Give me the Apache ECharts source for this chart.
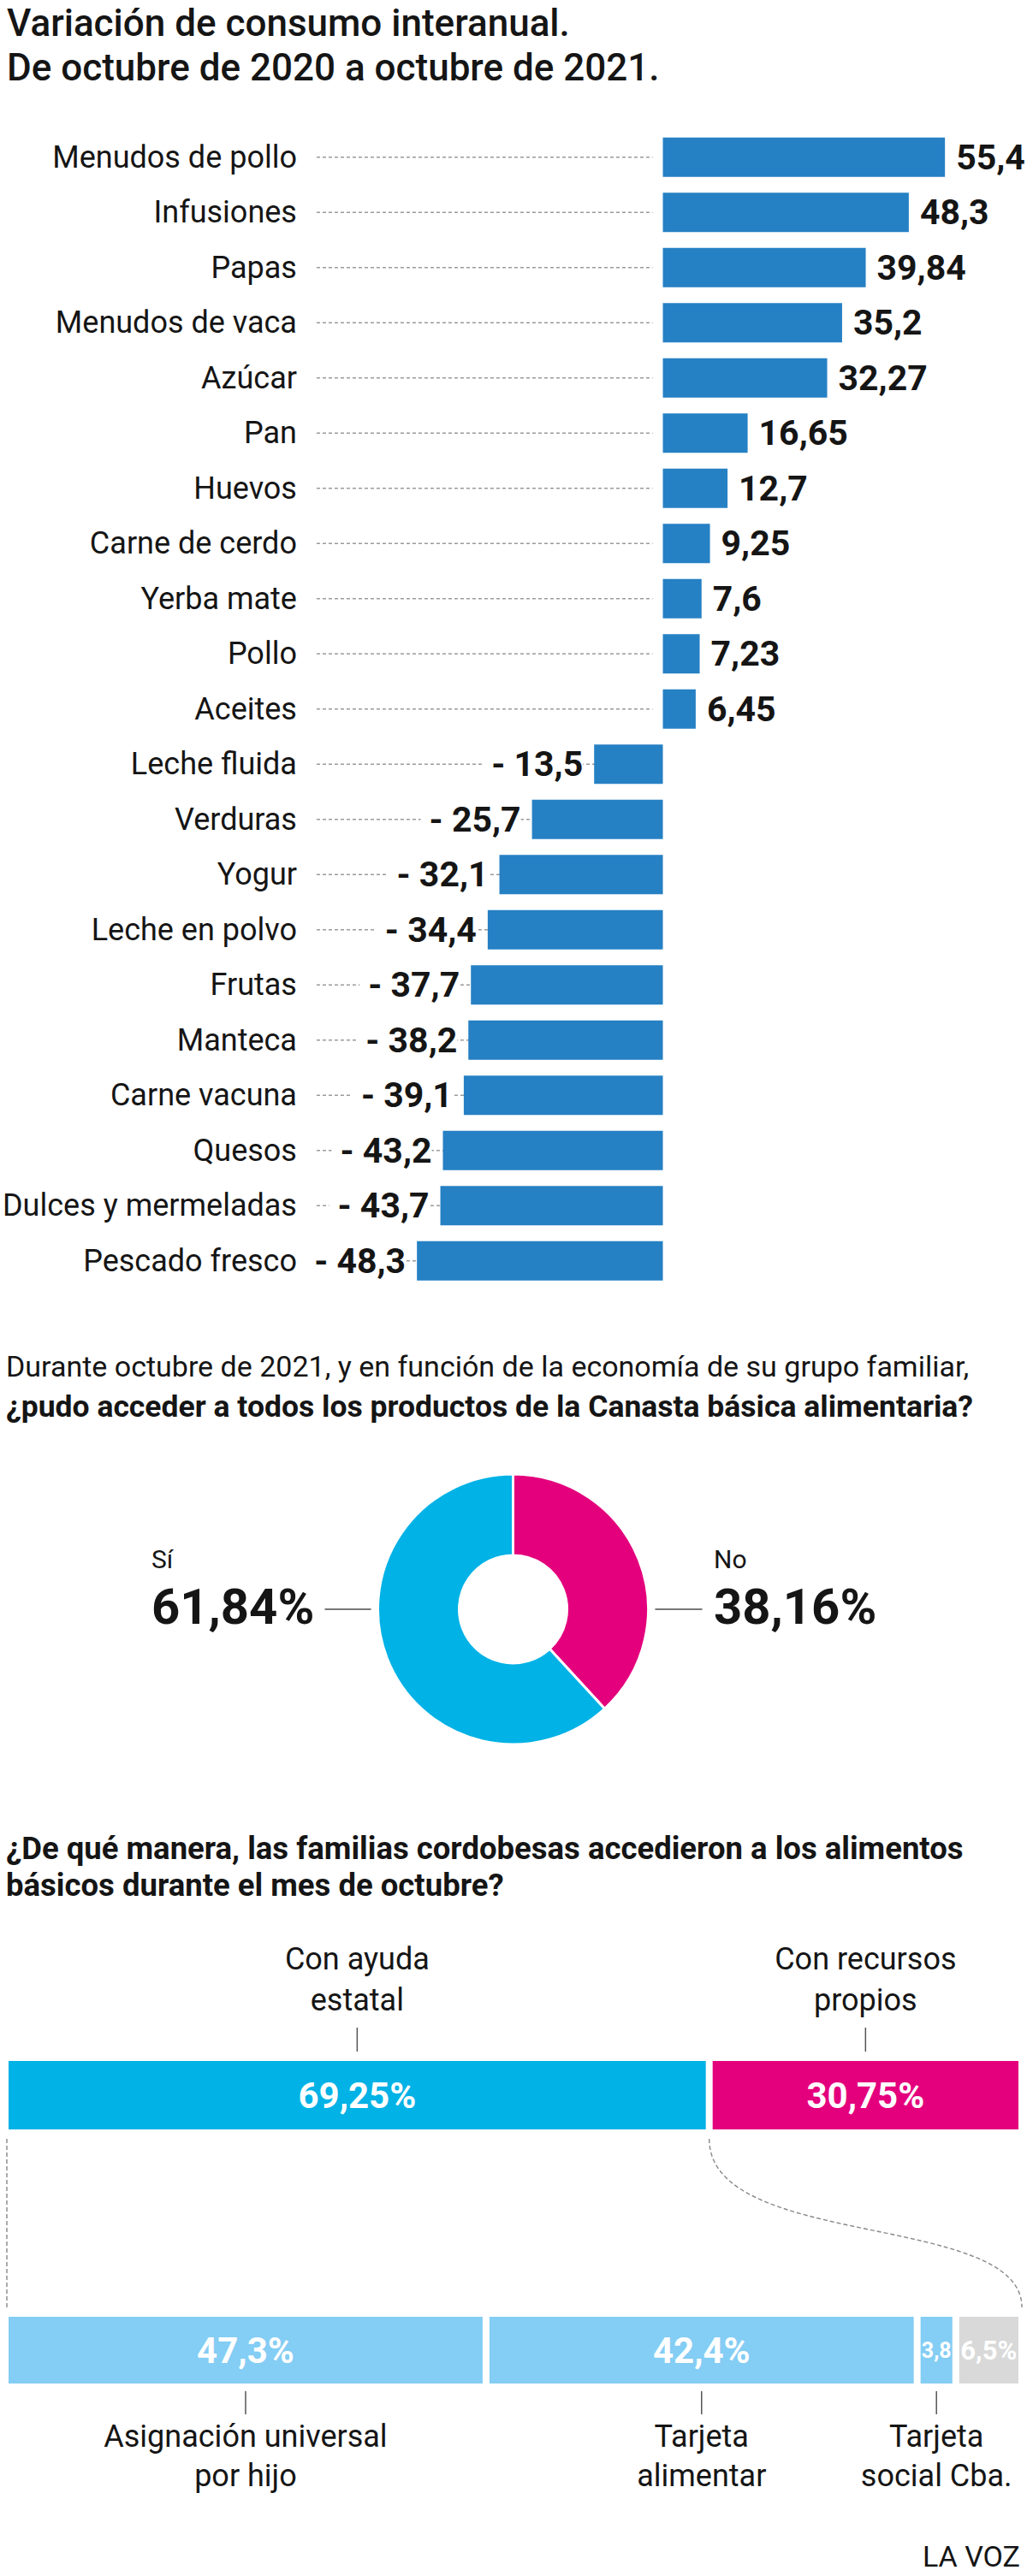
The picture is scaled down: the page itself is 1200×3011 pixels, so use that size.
<!DOCTYPE html>
<html lang="es">
<head>
<meta charset="utf-8">
<title>Variación de consumo interanual</title>
<script src="https://cdn.jsdelivr.net/npm/echarts@6.0.0/dist/echarts.min.js"></script>
<style>
  html, body { margin: 0; padding: 0; background: #fff; }
  #main { width: 1200px; height: 3011px; }
</style>
</head>
<body>
<div id="main"></div>
<script>
// datos: variación interanual del consumo (%)
const categories = ['Menudos de pollo', 'Infusiones', 'Papas', 'Menudos de vaca', 'Azúcar', 'Pan', 'Huevos',
  'Carne de cerdo', 'Yerba mate', 'Pollo', 'Aceites', 'Leche fluida', 'Verduras', 'Yogur', 'Leche en polvo',
  'Frutas', 'Manteca', 'Carne vacuna', 'Quesos', 'Dulces y mermeladas', 'Pescado fresco'];
const variation = [55.4, 48.3, 39.84, 35.2, 32.27, 16.65, 12.7, 9.25, 7.6, 7.23, 6.45,
  -13.5, -25.7, -32.1, -34.4, -37.7, -38.2, -39.1, -43.2, -43.7, -48.3];

// ¿pudo acceder a la canasta básica?
const pieLabels = ['Sí', 'No'];
const pieValues = [61.84, 38.16];

// forma de acceso
const accessLabels = ['Con ayuda\nestatal', 'Con recursos\npropios'];
const accessValues = [69.25, 30.75];

// tipo de ayuda estatal
const aidLabels = ['Asignación universal\npor hijo', 'Tarjeta\nalimentar', 'Tarjeta\nsocial Cba.', ''];
const aidValues = [47.3, 42.4, 3.8, 6.5];
const aidSuffix = ['%', '%', '', '%'];

const FONT = 'Roboto, "Liberation Sans", sans-serif';
const INK = '#151515';
const BLUE = '#2680c4', CYAN = '#00b2e6', MAGENTA = '#e4007d', LIGHT = '#84cdf4', GREY = '#d9d9d9';
const X_MIN = -68, X_MAX = 70;
const PIE_X = 599.5, PIE_Y = 1881, PIE_IN = 63, PIE_OUT = 158;

const fmt = v => String(v).replace('.', ',');

const chart = echarts.init(document.getElementById('main'), null, {renderer: 'svg'});

function text(x, y, str, size, weight, align, vAlign, lineHeight) {
  return {
    type: 'text', silent: true,
    style: {
      x: x, y: y, text: str, fill: INK,
      font: weight + ' ' + size + 'px ' + FONT,
      textAlign: align || 'left', textVerticalAlign: vAlign || 'middle',
      lineHeight: lineHeight || size
    }
  };
}

const barData = variation.map(v => ({
  value: v,
  label: v < 0
    ? {position: 'left', backgroundColor: '#fff', padding: [4, 0, 4, 10]}
    : {position: 'right'}
}));

const accessColors = [CYAN, MAGENTA];
const aidColors = [LIGHT, LIGHT, LIGHT, GREY];

const accessSeries = accessValues.map((v, i) => ({
  type: 'bar', xAxisIndex: 1, yAxisIndex: 1, stack: 'acceso', barWidth: 88,
  data: [v],
  itemStyle: {color: accessColors[i], borderColor: '#fff', borderWidth: 4},
  label: {show: true, position: 'inside', color: '#fff', fontFamily: FONT, fontWeight: 'bold',
    fontSize: 42, formatter: fmt(v) + '%'}
}));

const aidSeries = aidValues.map((v, i) => ({
  type: 'bar', xAxisIndex: 2, yAxisIndex: 2, stack: 'ayuda', barWidth: 86,
  data: [v],
  itemStyle: {color: aidColors[i], borderColor: '#fff', borderWidth: 4},
  label: {show: true, position: 'inside', color: '#fff', fontFamily: FONT, fontWeight: 'bold',
    fontSize: v < 5 ? 25 : (v < 10 ? 31 : 42), formatter: fmt(v) + aidSuffix[i]}
}));

const option = {
  animation: false,
  backgroundColor: '#fff',
  textStyle: {fontFamily: FONT},
  grid: [
    {left: 369, top: 151.5, width: 822, height: 1354.5},
    {left: 6, top: 2405, width: 1188, height: 88},
    {left: 6, top: 2704, width: 1188, height: 86}
  ],
  xAxis: [
    {gridIndex: 0, type: 'value', min: X_MIN, max: X_MAX, show: false},
    {gridIndex: 1, type: 'value', min: 0, max: 100, show: false},
    {gridIndex: 2, type: 'value', min: 0, max: 100, show: false}
  ],
  yAxis: [
    {
      gridIndex: 0, type: 'category', inverse: true, data: categories,
      axisLine: {show: false}, axisTick: {show: false}, splitLine: {show: false},
      axisLabel: {color: INK, fontSize: 36, fontFamily: FONT, margin: 23, padding: [0, 0, 8, 0]}
    },
    {gridIndex: 1, type: 'category', data: ['acceso'], show: false},
    {gridIndex: 2, type: 'category', data: ['ayuda'], show: false}
  ],
  series: [
    {
      // líneas punteadas guía
      type: 'custom', xAxisIndex: 0, yAxisIndex: 0, z: 1, silent: true,
      data: variation.map((v, i) => [v, i]),
      encode: {x: 0, y: 1},
      renderItem: function (params, api) {
        const zero = api.coord([0, api.value(1)]);
        return {
          type: 'line',
          shape: {x1: params.coordSys.x, y1: zero[1], x2: zero[0] - 12, y2: zero[1]},
          style: {stroke: '#9a9a9a', lineWidth: 1.3, lineDash: [4, 3]}
        };
      }
    },
    {
      type: 'bar', xAxisIndex: 0, yAxisIndex: 0, z: 2, barWidth: 46,
      data: barData,
      itemStyle: {color: BLUE},
      label: {
        show: true, distance: 13, color: INK, fontFamily: FONT, fontWeight: 'bold', fontSize: 41,
        formatter: p => p.value < 0 ? '- ' + fmt(-p.value) : fmt(p.value)
      }
    },
    {
      type: 'pie', center: [PIE_X, PIE_Y], radius: [PIE_IN, PIE_OUT],
      startAngle: 90, clockwise: true, silent: true,
      label: {show: false}, labelLine: {show: false},
      itemStyle: {borderColor: '#fff', borderWidth: 3},
      data: [
        {name: pieLabels[1], value: pieValues[1], itemStyle: {color: MAGENTA}},
        {name: pieLabels[0], value: pieValues[0], itemStyle: {color: CYAN}}
      ]
    }
  ].concat(accessSeries, aidSeries)
};

chart.setOption(option);

// anotaciones posicionadas con las escalas del gráfico
const px = (axis, v) => chart.convertToPixel({xAxisIndex: axis}, v);
const g = [];

g.push(text(8, 27, 'Variación de consumo interanual.', 44, 500));
g.push(text(8, 79, 'De octubre de 2020 a octubre de 2021.', 44, 500));

g.push(text(7, 1597, 'Durante octubre de 2021, y en función de la economía de su grupo familiar,', 34, 'normal'));
g.push(text(7, 1644, '¿pudo acceder a todos los productos de la Canasta básica alimentaria?', 35.5, 'bold'));

// etiquetas del anillo
g.push(text(177, 1822, pieLabels[0], 30, 'normal'));
g.push(text(177, 1878, fmt(pieValues[0]) + '%', 58, 'bold'));
g.push(text(834, 1822, pieLabels[1], 30, 'normal'));
g.push(text(834, 1878, fmt(pieValues[1]) + '%', 58, 'bold'));
const lineStyle = {stroke: '#777', lineWidth: 2};
g.push({type: 'line', silent: true, shape: {x1: PIE_X - PIE_OUT - 62, y1: PIE_Y, x2: PIE_X - PIE_OUT - 8, y2: PIE_Y}, style: lineStyle});
g.push({type: 'line', silent: true, shape: {x1: PIE_X + PIE_OUT + 8, y1: PIE_Y, x2: PIE_X + PIE_OUT + 63, y2: PIE_Y}, style: lineStyle});

g.push(text(7, 2160, '¿De qué manera, las familias cordobesas accedieron a los alimentos', 36.5, 'bold'));
g.push(text(7, 2203, 'básicos durante el mes de octubre?', 36.5, 'bold'));

const tickStyle = {stroke: '#555', lineWidth: 1.5};
let cum = 0;
accessValues.forEach((v, i) => {
  const cx = px(1, cum + v / 2);
  g.push(text(cx, 2266, accessLabels[i], 36, 'normal', 'center', 'top', 48));
  g.push({type: 'line', silent: true, shape: {x1: cx, y1: 2370, x2: cx, y2: 2398}, style: tickStyle});
  cum += v;
});

cum = 0;
aidValues.forEach((v, i) => {
  const cx = px(2, cum + v / 2);
  if (aidLabels[i]) {
    g.push({type: 'line', silent: true, shape: {x1: cx, y1: 2795, x2: cx, y2: 2822}, style: tickStyle});
    g.push(text(cx, 2825, aidLabels[i], 36, 'normal', 'center', 'top', 46));
  }
  cum += v;
});

// conectores punteados entre barras
const dash = {stroke: '#888', lineWidth: 1.4, lineDash: [5, 3], fill: 'none'};
const left0 = px(1, 0) + 2;
const split = px(1, accessValues[0]);
const right1 = px(2, 100);
g.push({type: 'line', silent: true, shape: {x1: left0, y1: 2500, x2: left0, y2: 2697}, style: dash});
g.push({type: 'bezierCurve', silent: true,
  shape: {x1: split, y1: 2500, cpx1: split, cpy1: 2630, cpx2: right1, cpy2: 2585, x2: right1, y2: 2697},
  style: dash});

g.push(text(1192, 2988, 'LA VOZ', 34, 'normal', 'right'));

chart.setOption({graphic: {elements: g}});
</script>
</body>
</html>
